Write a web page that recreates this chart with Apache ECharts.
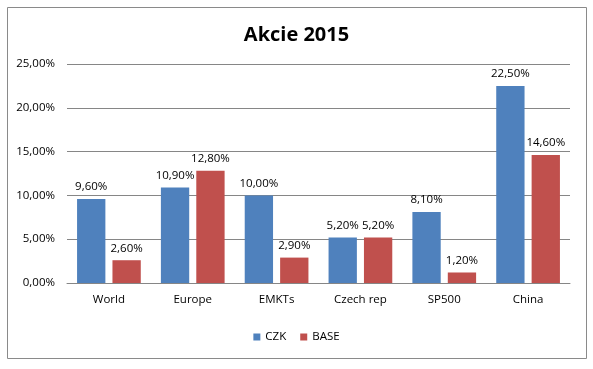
<!DOCTYPE html>
<html><head><meta charset="utf-8">
<script src="https://cdn.jsdelivr.net/npm/echarts@6/dist/echarts.min.js"></script>
<style>html,body{margin:0;padding:0;background:#fff}#c{width:593px;height:369px}</style>
</head><body><div id="c"></div>
<script>
const categories = ['World','Europe','EMKTs','Czech rep','SP500','China'];
const czk = [9.6, 10.9, 10.0, 5.2, 8.1, 22.5];
const base = [2.6, 12.8, 2.9, 5.2, 1.2, 14.6];
const yTicks = [0, 5, 10, 15, 20, 25];
const fmt = v => v.toFixed(2).replace('.', ',') + '%';
const FONT = 'Open Sans';
const chart = echarts.init(document.getElementById('c'));
chart.setOption({
  animation: false,
  textStyle: {fontFamily: FONT},
  graphic: [{type:'rect', shape:{x:7.5,y:7.5,width:579,height:351}, style:{fill:'none', stroke:'#8a8a8a', lineWidth:1}, z:-1}],
  title: {text:'Akcie 2015', left:'center', top:20, textStyle:{fontFamily:FONT, fontWeight:'bold', fontSize:20, color:'#000'}},
  legend: {bottom:21, left:'center', itemWidth:7, itemHeight:7, itemGap:14, icon:'rect', textStyle:{fontFamily:FONT, fontSize:11.5, color:'#000'}, data:['CZK','BASE']},
  grid: {left:67, right:23, top:64, bottom:86},
  xAxis: {type:'category', data:categories, axisTick:{show:false}, axisLine:{lineStyle:{color:'#868686'}}, axisLabel:{color:'#000', fontSize:11.5, margin:11}},
  yAxis: {type:'value', min:yTicks[0], max:yTicks[yTicks.length-1], interval:5, axisLabel:{formatter:fmt, color:'#000', fontSize:11.5, margin:12}, splitLine:{lineStyle:{color:'#868686'}}, axisLine:{show:false}, axisTick:{show:false}},
  series: [
    {name:'CZK', type:'bar', data:czk, itemStyle:{color:'#4F81BD'}, barGap:'25%', barCategoryGap:'24%', label:{show:true, position:'top', formatter:p=>fmt(p.value), color:'#000', fontSize:11.5, distance:6}},
    {name:'BASE', type:'bar', data:base, itemStyle:{color:'#C0504D'}, label:{show:true, position:'top', formatter:p=>fmt(p.value), color:'#000', fontSize:11.5, distance:6}}
  ]
});
</script></body></html>
